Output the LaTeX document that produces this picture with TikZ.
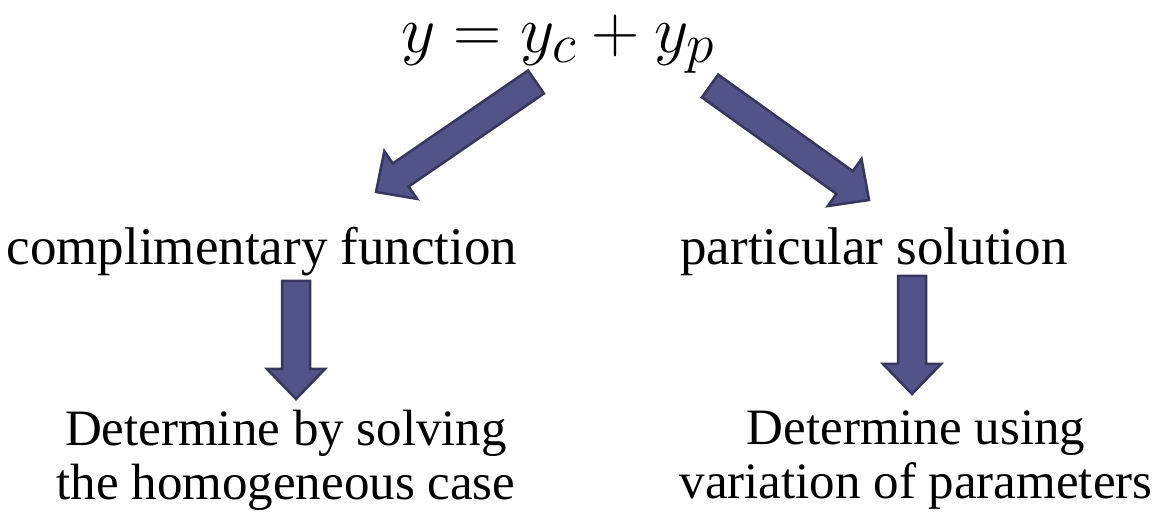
\documentclass[tikz,border=0pt]{standalone}
\usepackage{fontspec}
\setmainfont{Liberation Serif}
\usetikzlibrary{calc}
\definecolor{flechefond}{RGB}{82,84,137}
\definecolor{flechebord}{RGB}{54,54,94}

\begin{document}
\begin{tikzpicture}[x=0.5pt,y=-0.5pt]
		% Styles
		\tikzstyle{fleche}=[fill=flechefond,draw=flechebord,line width=1.25pt,line join=miter]
		\tikzstyle{equation}=[font=\fontsize{24.88}{30}\selectfont,scale=1.34,anchor=base,inner sep=0pt]
		\tikzstyle{etiquette}=[font=\fontsize{26.5}{31}\selectfont,anchor=base,inner sep=0pt]
		\tikzstyle{commentaire}=[font=\fontsize{25.5}{27}\selectfont,align=center,anchor=north,inner sep=0pt]
		% Dimensions des fleches
		\def\DemiCorps{7pt}
		\def\DemiTete{14.5pt}
		\def\LongTete{15pt}
		\def\FlecheBloc#1#2{%
			\coordinate (base) at ($(#2)!\LongTete!(#1)$);
			\draw[fleche] ($(#1)!\DemiCorps!90:(#2)$) -- ($(base)!\DemiCorps!90:(#2)$)
				-- ($(base)!\DemiTete!90:(#2)$) -- (#2) -- ($(base)!\DemiTete!-90:(#2)$)
				-- ($(base)!\DemiCorps!-90:(#2)$) -- ($(#1)!\DemiCorps!-90:(#2)$) -- cycle;}
		\useasboundingbox (0,0) rectangle (1176,512);
		% Noeuds
		\node[equation] (eq) at (558,53) {$y = y_c + y_p$};
		\node[etiquette] (complementaire) at (262,265) {complimentary function};
		\node[etiquette] (particuliere) at (874,265) {particular solution};
		\node[commentaire] (homogene) at (286,410) {Determine by solving\\the homogeneous case};
		\node[commentaire] (variation) at (916,410) {Determine using\\variation of parameters};
		% Extremites des fleches
		\coordinate (queueA) at (536,82);
		\coordinate (pointeA) at (376,192);
		\coordinate (queueB) at (710,86);
		\coordinate (pointeB) at (869,200);
		\coordinate (queueC) at (296,281);
		\coordinate (pointeC) at (296,399);
		\coordinate (queueD) at (912,276);
		\coordinate (pointeD) at (912,394);
		% Fleches
		\FlecheBloc{queueA}{pointeA}
		\FlecheBloc{queueB}{pointeB}
		\FlecheBloc{queueC}{pointeC}
		\FlecheBloc{queueD}{pointeD}
\end{tikzpicture}
\end{document}
